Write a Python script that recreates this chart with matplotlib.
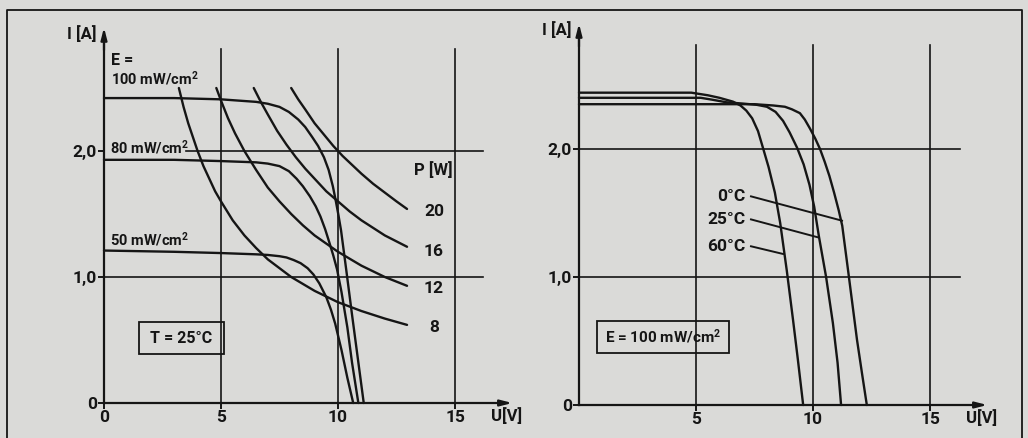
import matplotlib
matplotlib.use('Agg')
import matplotlib.pyplot as plt
from matplotlib.lines import Line2D
from matplotlib.patches import Rectangle

# Kennlinien eines Solarmoduls, links: Einstrahlung, rechts: Temperatur
U_100 = [0, 3, 5, 6.5, 7.0, 7.5, 7.9, 8.3, 8.6, 8.9, 9.15, 9.4, 9.6, 9.78, 9.91, 10.02, 10.13,
         10.35, 10.6, 10.85, 11.1]
I_100 = [2.42, 2.42, 2.41, 2.39, 2.375, 2.35, 2.31, 2.25, 2.19, 2.11, 2.04, 1.95, 1.85, 1.72,
         1.60, 1.49, 1.37, 1.06, 0.70, 0.35, 0.0]
U_80 = [0, 3, 5, 6.5, 7.0, 7.5, 7.9, 8.23, 8.5, 8.8, 9.05, 9.25, 9.45, 9.62, 9.8, 9.96, 10.15,
        10.4, 10.6, 10.87]
I_80 = [1.93, 1.93, 1.92, 1.91, 1.90, 1.88, 1.84, 1.78, 1.72, 1.64, 1.56, 1.48, 1.38, 1.28,
        1.17, 1.06, 0.88, 0.60, 0.32, 0.0]
U_50 = [0, 3, 5, 6.5, 7.0, 7.5, 7.8, 8.1, 8.4, 8.7, 8.95, 9.2, 9.5, 9.7, 9.88, 10.15, 10.4, 10.65]
I_50 = [1.21, 1.20, 1.19, 1.18, 1.175, 1.165, 1.155, 1.135, 1.11, 1.07, 1.02, 0.95, 0.84,
        0.74, 0.63, 0.42, 0.20, 0.0]

# Leistungshyperbeln P [W]
U_P8 = [3.2, 3.4, 3.6, 3.8, 4.0, 4.25, 4.5, 4.75, 5.0, 5.5, 6.0, 6.5, 7.0, 8.0, 9.0, 10.0,
        11.0, 12.0, 12.95]
I_P8 = [2.50, 2.35, 2.22, 2.11, 2.00, 1.88, 1.78, 1.68, 1.60, 1.45, 1.33, 1.23, 1.14, 1.00,
        0.89, 0.80, 0.73, 0.67, 0.62]
U_P12 = [4.8, 5.0, 5.3, 5.6, 6.0, 6.5, 7.0, 7.5, 8.0, 8.5, 9.0, 10.0, 11.0, 12.0, 12.95]
I_P12 = [2.50, 2.40, 2.26, 2.14, 2.00, 1.85, 1.71, 1.60, 1.50, 1.41, 1.33, 1.20, 1.09, 1.00, 0.93]
U_P16 = [6.4, 6.7, 7.0, 7.4, 7.8, 8.2, 8.6, 9.0, 9.5, 10.0, 10.5, 11.0, 12.0, 12.95]
I_P16 = [2.50, 2.39, 2.29, 2.16, 2.05, 1.95, 1.86, 1.78, 1.68, 1.60, 1.52, 1.45, 1.33, 1.24]
U_P20 = [8.0, 8.3, 8.6, 9.0, 9.4, 9.8, 10.2, 10.6, 11.0, 11.5, 12.0, 12.5, 12.95]
I_P20 = [2.50, 2.41, 2.33, 2.22, 2.13, 2.04, 1.96, 1.89, 1.82, 1.74, 1.67, 1.60, 1.54]
P_labels = ['20', '16', '12', '8']
P_label_I = [1.52, 1.20, 0.91, 0.60]

U_T60 = [0, 4.8, 5.5, 6.0, 6.58, 6.9, 7.15, 7.4, 7.65, 7.86, 8.1, 8.37, 8.6, 8.88, 9.15,
         9.35, 9.58]
I_T60 = [2.44, 2.44, 2.42, 2.40, 2.37, 2.34, 2.30, 2.24, 2.14, 2.01, 1.86, 1.66, 1.42, 1.05,
         0.66, 0.36, 0.0]
U_T25 = [0, 5.2, 5.7, 6.3, 7.0, 7.6, 8.03, 8.4, 8.72, 9.0, 9.32, 9.6, 9.85, 10.05, 10.25,
         10.56, 10.85, 11.05, 11.2]
I_T25 = [2.40, 2.40, 2.385, 2.365, 2.355, 2.345, 2.33, 2.29, 2.22, 2.13, 2.01, 1.88, 1.72,
         1.55, 1.32, 1.00, 0.64, 0.33, 0.0]
U_T0 = [0, 7.5, 8.3, 8.8, 9.1, 9.44, 9.65, 9.87, 10.1, 10.3, 10.5, 10.7, 10.9, 11.1, 11.25,
        11.5, 11.88, 12.1, 12.3]
I_T0 = [2.35, 2.35, 2.34, 2.33, 2.31, 2.28, 2.23, 2.16, 2.08, 2.00, 1.90, 1.79, 1.66, 1.52,
        1.40, 1.05, 0.51, 0.24, 0.0]

INK = '#151515'
BG = '#dadad8'
W, H = 1028, 438
FS = 12.5   # Ziffern
FS_T = 10.5  # Beschriftungen mit Einheit

plt.rcParams['font.family'] = ['Roboto', 'DejaVu Sans']
plt.rcParams['font.weight'] = 'bold'
plt.rcParams['mathtext.fontset'] = 'custom'
plt.rcParams['mathtext.rm'] = 'Roboto:bold'
plt.rcParams['mathtext.default'] = 'rm'

fig = plt.figure(figsize=(W / 100, H / 100), dpi=100, facecolor=BG)

# Rahmen (unten abgeschnitten)
fx = lambda px: px / W
fy = lambda py: 1 - py / H
fig.add_artist(Line2D([fx(7), fx(7), fx(1022), fx(1022)], [fy(438), fy(10), fy(10), fy(438)],
                      color=INK, lw=1.3, transform=fig.transFigure))


def make_axes(x0, y0, sx, sy, xlim=(-0.8, 17.8), ylim=(-0.15, 3.0)):
    left = x0 + xlim[0] * sx
    right = x0 + xlim[1] * sx
    bot = y0 - ylim[0] * sy
    top = y0 - ylim[1] * sy
    ax = fig.add_axes([left / W, 1 - bot / H, (right - left) / W, (bot - top) / H])
    ax.set_xlim(xlim)
    ax.set_ylim(ylim)
    ax.patch.set_visible(False)
    for s in ['top', 'right']:
        ax.spines[s].set_visible(False)
    for s in ['left', 'bottom']:
        ax.spines[s].set_position(('data', 0))
        ax.spines[s].set_linewidth(1.6)
        ax.spines[s].set_color(INK)
    ax.spines['left'].set_bounds(0, 2.9)
    ax.spines['bottom'].set_bounds(0, 17.1)
    ax.tick_params(direction='out', length=4, width=1.4, color=INK,
                   labelsize=FS, labelcolor=INK, pad=1)
    ax.set_yticks([0, 1, 2], ['0', '1,0', '2,0'])
    # Pfeilspitzen
    ax.annotate('', xy=(17.45, 0), xytext=(16.9, 0),
                arrowprops=dict(arrowstyle='-|>,head_length=0.7,head_width=0.18',
                                color=INK, lw=1.6, shrinkA=0, shrinkB=0))
    ax.annotate('', xy=(0, 2.98), xytext=(0, 2.8),
                arrowprops=dict(arrowstyle='-|>,head_length=0.7,head_width=0.18',
                                color=INK, lw=1.6, shrinkA=0, shrinkB=0))
    for v in [5, 10, 15]:
        ax.plot([v, v], [0, 2.81], color=INK, lw=1.2)
    ax.text(-0.3, 2.93, 'I [A]', ha='right', va='center', fontsize=12, color=INK)
    ax.text(17.85, -0.1, 'U[V]', ha='right', va='center', fontsize=12, color=INK)
    return ax


lw_c = 1.7

# linkes Diagramm
ax1 = make_axes(104, 403, 23.4, 126)
ax1.set_xticks([0, 5, 10, 15], ['0', '5', '10', '15'])
ax1.plot([0, 16.2], [1, 1], color=INK, lw=1.2)
ax1.plot([3.5, 16.2], [2, 2], color=INK, lw=1.2)
for u, i in [(U_100, I_100), (U_80, I_80), (U_50, I_50),
             (U_P8, I_P8), (U_P12, I_P12), (U_P16, I_P16), (U_P20, I_P20)]:
    ax1.plot(u, i, color=INK, lw=lw_c, solid_capstyle='round', solid_joinstyle='round')
ax1.text(0.3, 2.72, 'E =', ha='left', va='center', fontsize=11.5, color=INK)
ax1.text(0.3, 2.58, '100 mW/cm$^2$', ha='left', va='center', fontsize=FS_T, color=INK)
ax1.text(0.25, 2.03, '80 mW/cm$^2$', ha='left', va='center', fontsize=FS_T, color=INK)
ax1.text(0.25, 1.30, '50 mW/cm$^2$', ha='left', va='center', fontsize=FS_T, color=INK)
ax1.text(13.25, 1.85, 'P [W]', ha='left', va='center', fontsize=12, color=INK)
for lab, yi in zip(P_labels, P_label_I):
    ax1.text(14.1, yi, lab, ha='center', va='center', fontsize=FS, color=INK)
ax1.add_patch(Rectangle((1.5, 0.39), 3.63, 0.25, fill=False, ec=INK, lw=1.3))
ax1.text(3.3, 0.515, 'T = 25°C', ha='center', va='center', fontsize=11.5, color=INK)

# rechtes Diagramm
ax2 = make_axes(579, 405, 23.4, 128)
ax2.set_xticks([5, 10, 15], ['5', '10', '15'])
ax2.plot([0, 16.3], [1, 1], color=INK, lw=1.2)
ax2.plot([0, 16.3], [2, 2], color=INK, lw=1.2)
for u, i in [(U_T60, I_T60), (U_T25, I_T25), (U_T0, I_T0)]:
    ax2.plot(u, i, color=INK, lw=lw_c, solid_capstyle='round', solid_joinstyle='round')
for lab, yl, (xe, ye) in [('0°C', 1.63, (11.24, 1.44)),
                          ('25°C', 1.45, (10.21, 1.31)),
                          ('60°C', 1.24, (8.72, 1.18))]:
    ax2.text(7.1, yl, lab, ha='right', va='center', fontsize=FS, color=INK)
    ax2.plot([7.35, xe], [yl, ye], color=INK, lw=1.4)
ax2.add_patch(Rectangle((0.77, 0.41), 5.64, 0.25, fill=False, ec=INK, lw=1.3))
ax2.text(3.6, 0.535, 'E = 100 mW/cm$^2$', ha='center', va='center', fontsize=11, color=INK)

fig.savefig('out.png', dpi=100, facecolor=BG)
